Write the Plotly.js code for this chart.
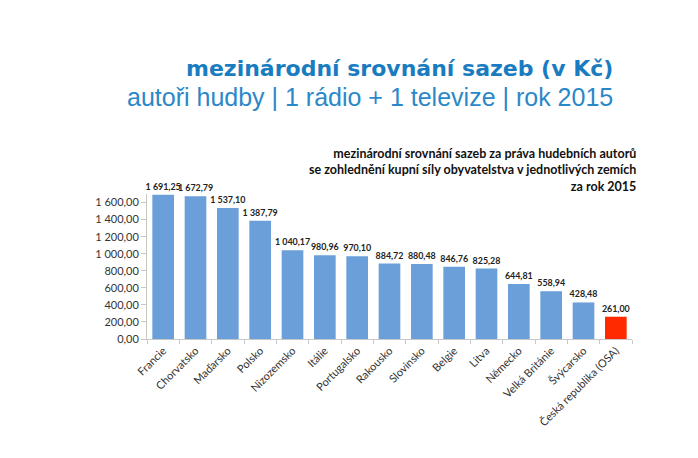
<!DOCTYPE html>
<html><head><meta charset="utf-8">
<script src="https://cdn.plot.ly/plotly-3.0.1.min.js"></script>
<style>html,body{margin:0;padding:0;background:#fff}#chart{width:698px;height:458px}</style>
</head><body><div id="chart"></div>
<script>
var countries = ["Francie","Chorvatsko","Maďarsko","Polsko","Nizozemsko","Itálie","Portugalsko","Rakousko","Slovinsko","Belgie","Litva","Německo","Velká Británie","Švýcarsko","Česká republika (OSA)"];
var rates = [1691.25,1672.79,1537.10,1387.79,1040.17,980.96,970.10,884.72,880.48,846.76,825.28,644.81,558.94,428.48,261.00];
var highlight = "Česká republika (OSA)";
var yTicks = [0,200,400,600,800,1000,1200,1400,1600];

var colors = countries.map(function(c){ return c === highlight ? "#ff2a00" : "#6a9fd9"; });

var data = [{
  type: "bar",
  x: countries,
  y: rates,
  marker: {color: colors},
  texttemplate: "<b>%{y:,.2f}</b>",
  textposition: "outside",
  constraintext: "none",
  textfont: {family: "Lato, 'Open Sans', sans-serif", size: 8.9, color: "#222"},
  cliponaxis: false,
  hoverinfo: "none"
}];

var L = 147, R = 66, T = 194, B = 119, W = 698, H = 458;
var pw = W - L - R, ph = H - T - B;
function px(x){ return (x - L) / pw; }
function py(y){ return (H - B - y) / ph; }

var layout = {
  width: W, height: H,
  margin: {l: L, r: R, t: T, b: B},
  paper_bgcolor: "#fff", plot_bgcolor: "#fff",
  separators: ", ",
  showlegend: false,
  bargap: 0.33,
  font: {family: "Lato, 'Open Sans', sans-serif", color: "#333"},
  xaxis: {
    type: "category",
    tickangle: -45,
    tickson: "boundaries",
    ticks: "outside", ticklen: 4, tickcolor: "#c8c8c8",
    showline: true, linecolor: "#c8c8c8", linewidth: 1,
    showgrid: false,
    tickfont: {family: "Lato, 'Open Sans', sans-serif", size: 11, color: "#333"}
  },
  yaxis: {
    range: [0, 1700],
    tickvals: yTicks,
    tickformat: ",.2f",
    ticks: "outside", ticklen: 5, tickcolor: "#c8c8c8",
    showline: true, linecolor: "#c8c8c8", linewidth: 1,
    showgrid: false, zeroline: false,
    tickfont: {family: "Lato, 'Open Sans', sans-serif", size: 11, color: "#333"}
  },
  annotations: [
    {text: "<b>mezinárodní srovnání sazeb (v Kč)</b>", xref: "paper", yref: "paper",
     x: px(615), y: py(68), showarrow: false, xanchor: "right", yanchor: "middle",
     font: {family: "'DejaVu Sans', sans-serif", size: 22, color: "#1a7cc0"}},
    {text: "autoři hudby | 1 rádio + 1 televize | rok 2015", xref: "paper", yref: "paper",
     x: px(615), y: py(97), showarrow: false, xanchor: "right", yanchor: "middle",
     font: {family: "'Liberation Sans', Arial, sans-serif", size: 25, color: "#2b88c8"}},
    {text: "<b>mezinárodní srovnání sazeb za práva hudebních autorů<br>se zohlednění kupní síly obyvatelstva v jednotlivých zemích<br>za rok 2015</b>",
     xref: "paper", yref: "paper", x: px(638), y: py(170),
     showarrow: false, xanchor: "right", yanchor: "middle", align: "right",
     font: {family: "Lato, 'Open Sans', sans-serif", size: 12.5, color: "#111", lineHeight: 1.1}}
  ]
};

Plotly.newPlot("chart", data, layout, {displayModeBar: false, staticPlot: true});
</script>
</body></html>
